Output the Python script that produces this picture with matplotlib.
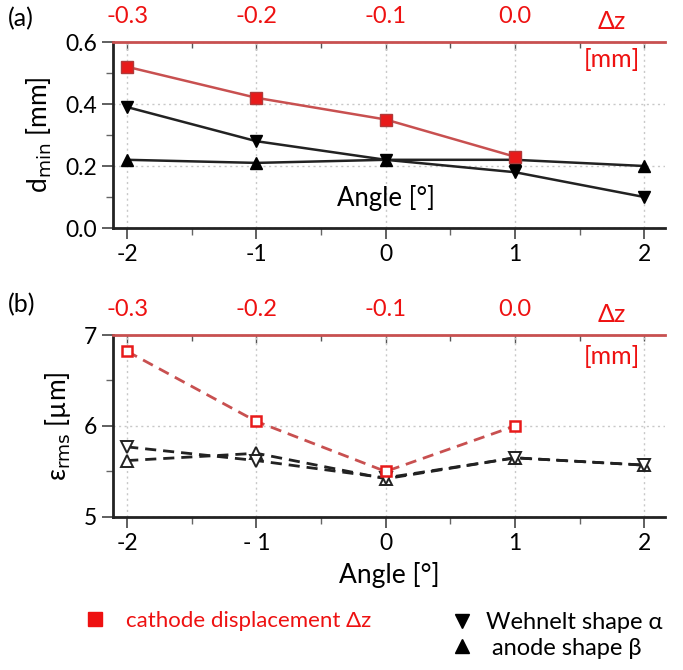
import numpy as np
import matplotlib

matplotlib.use("Agg")
import matplotlib.pyplot as plt
from matplotlib.lines import Line2D

plt.rcParams["font.family"] = ["Lato", "DejaVu Sans"]
plt.rcParams["axes.unicode_minus"] = False

# data
angle = [-2, -1, 0, 1, 2]
angle_cath = [-2, -1, 0, 1]
dz_ticks = [-0.3, -0.2, -0.1, 0.0]
dz_labels = ["-0.3", "-0.2", "-0.1", "0.0"]

dmin_cath = [0.52, 0.42, 0.35, 0.23]
dmin_wehnelt = [0.39, 0.28, 0.22, 0.18, 0.10]
dmin_anode = [0.22, 0.21, 0.22, 0.22, 0.20]

eps_cath = [6.82, 6.05, 5.50, 6.00]
eps_wehnelt = [5.77, 5.62, 5.43, 5.65, 5.57]
eps_anode = [5.62, 5.70, 5.42, 5.65, 5.57]

RED = "#e81a1a"
DARKRED = "#b03a3a"
LINERED = "#c85050"
TXTRED = "#ee1111"
FS = 15.5
FS_LAB = 19


def angle_to_dz(a):
    return (np.asarray(a) - 1) * 0.1


def dz_to_angle(d):
    return np.asarray(d) / 0.1 + 1


def style_axes(ax, ylim, yticks, yminor, ylabel):
    ax.set_xlim(-2.11, 2.16)
    ax.set_ylim(*ylim)
    ax.set_yticks(yticks)
    ax.set_yticks(yminor, minor=True)
    ax.set_xticks(angle)
    ax.set_xticks([-1.5, -0.5, 0.5, 1.5], minor=True)
    ax.spines["right"].set_visible(False)
    for s in ("left", "bottom"):
        ax.spines[s].set_linewidth(2)
        ax.spines[s].set_color("#222222")
    ax.spines["top"].set_color(LINERED)
    ax.spines["top"].set_linewidth(2)
    ax.tick_params(axis="both", which="major", direction="out", length=8, width=1.2,
                   labelsize=FS + 1, color="#444444")
    ax.tick_params(axis="both", which="minor", direction="out", length=5, width=1, color="#666666")
    ax.grid(True, which="major", linestyle=(0, (1.5, 2.5)), color="#c8c8c8", lw=1)
    ax.set_axisbelow(True)
    ax.set_ylabel(ylabel, fontsize=FS_LAB, labelpad=8)

    top = ax.secondary_xaxis("top", functions=(angle_to_dz, dz_to_angle))
    top.set_xticks(dz_ticks)
    top.set_xticklabels(dz_labels)
    top.set_xticks([-0.25, -0.15, -0.05, 0.05, 0.1], minor=True)
    top.tick_params(which="both", direction="in", length=6, width=1, color="#555555",
                    labelcolor=TXTRED, labelsize=FS + 1.5, pad=11)
    top.tick_params(which="minor", length=4)
    top.spines["top"].set_visible(False)
    return top


fig = plt.figure(figsize=(6.83, 6.70), dpi=100)
ax1 = fig.add_axes([0.1654, 0.6597, 0.808, 0.2776])
ax2 = fig.add_axes([0.1654, 0.2284, 0.808, 0.2716])

# (a) d_min
style_axes(ax1, (0, 0.6), [0.0, 0.2, 0.4, 0.6], [0.1, 0.3, 0.5], r"d$_{\mathrm{min}}$ [mm]")
ax1.set_yticklabels(["0.0", "0.2", "0.4", "0.6"])
ax1.plot(angle, dmin_anode, "-", color="#222222", lw=1.8, marker="^", ms=9,
         mfc="black", mec="black", zorder=3)
ax1.plot(angle, dmin_wehnelt, "-", color="#222222", lw=1.8, marker="v", ms=9,
         mfc="black", mec="black", zorder=3)
ax1.plot(angle_cath, dmin_cath, "-", color=LINERED, lw=1.8, marker="s", ms=8,
         mfc=RED, mec=DARKRED, mew=1, zorder=4)
ax1.text(0, 0.098, "Angle [°]", ha="center", va="center", fontsize=FS_LAB - 0.5)
ax1.text(1.75, 0.665, "Δz", color=TXTRED, ha="center", va="center", fontsize=FS_LAB - 1,
         clip_on=False)
ax1.text(1.75, 0.545, "[mm]", color=TXTRED, ha="center", va="center", fontsize=FS_LAB - 1)

# (b) emittance
style_axes(ax2, (5, 7), [5, 6, 7], [5.5, 6.5], r"ε$_{\mathrm{rms}}$ [µm]")
ax2.set_xticklabels(["-2", "- 1", "0", "1", "2"])
dash = (0, (4, 2.5))
ax2.plot(angle, eps_anode, linestyle=dash, color="#222222", lw=2, marker="^", ms=8,
         mfc="white", mec="#222222", mew=1.4, zorder=3)
ax2.plot(angle, eps_wehnelt, linestyle=dash, color="#222222", lw=2, marker="v", ms=8,
         mfc="white", mec="#222222", mew=1.4, zorder=3)
ax2.plot(angle_cath, eps_cath, linestyle=dash, color=LINERED, lw=2, marker="s", ms=7,
         mfc="white", mec=RED, mew=1.8, zorder=4)
ax2.set_xlabel("Angle [°]", fontsize=FS_LAB, labelpad=6)
ax2.text(1.75, 7.22, "Δz", color=TXTRED, ha="center", va="center", fontsize=FS_LAB - 1,
         clip_on=False)
ax2.text(1.75, 6.76, "[mm]", color=TXTRED, ha="center", va="center", fontsize=FS_LAB - 1)

fig.text(0.012, 0.972, "(a)", fontsize=FS_LAB - 1, va="center")
fig.text(0.012, 0.545, "(b)", fontsize=FS_LAB - 1, va="center")

# legends
h_cath = [Line2D([], [], ls="none", marker="s", ms=10, mfc="#ee1111", mec="#ee1111")]
fig.legend(h_cath, ["cathode displacement Δz"], loc="center left",
           bbox_to_anchor=(0.09, 0.073), frameon=False, fontsize=FS + 0.5,
           handletextpad=0.8, labelcolor=TXTRED, handlelength=1.2)
h_shape = [Line2D([], [], ls="none", marker="v", ms=10, mfc="black", mec="black"),
           Line2D([], [], ls="none", marker="^", ms=10, mfc="black", mec="black")]
fig.legend(h_shape, ["Wehnelt shape α", " anode shape β"], loc="center left",
           bbox_to_anchor=(0.625, 0.052), frameon=False, fontsize=FS + 1.5,
           handletextpad=0.4, labelspacing=0.2, handlelength=1.2)

fig.savefig("out.png", dpi=100, facecolor="white")
